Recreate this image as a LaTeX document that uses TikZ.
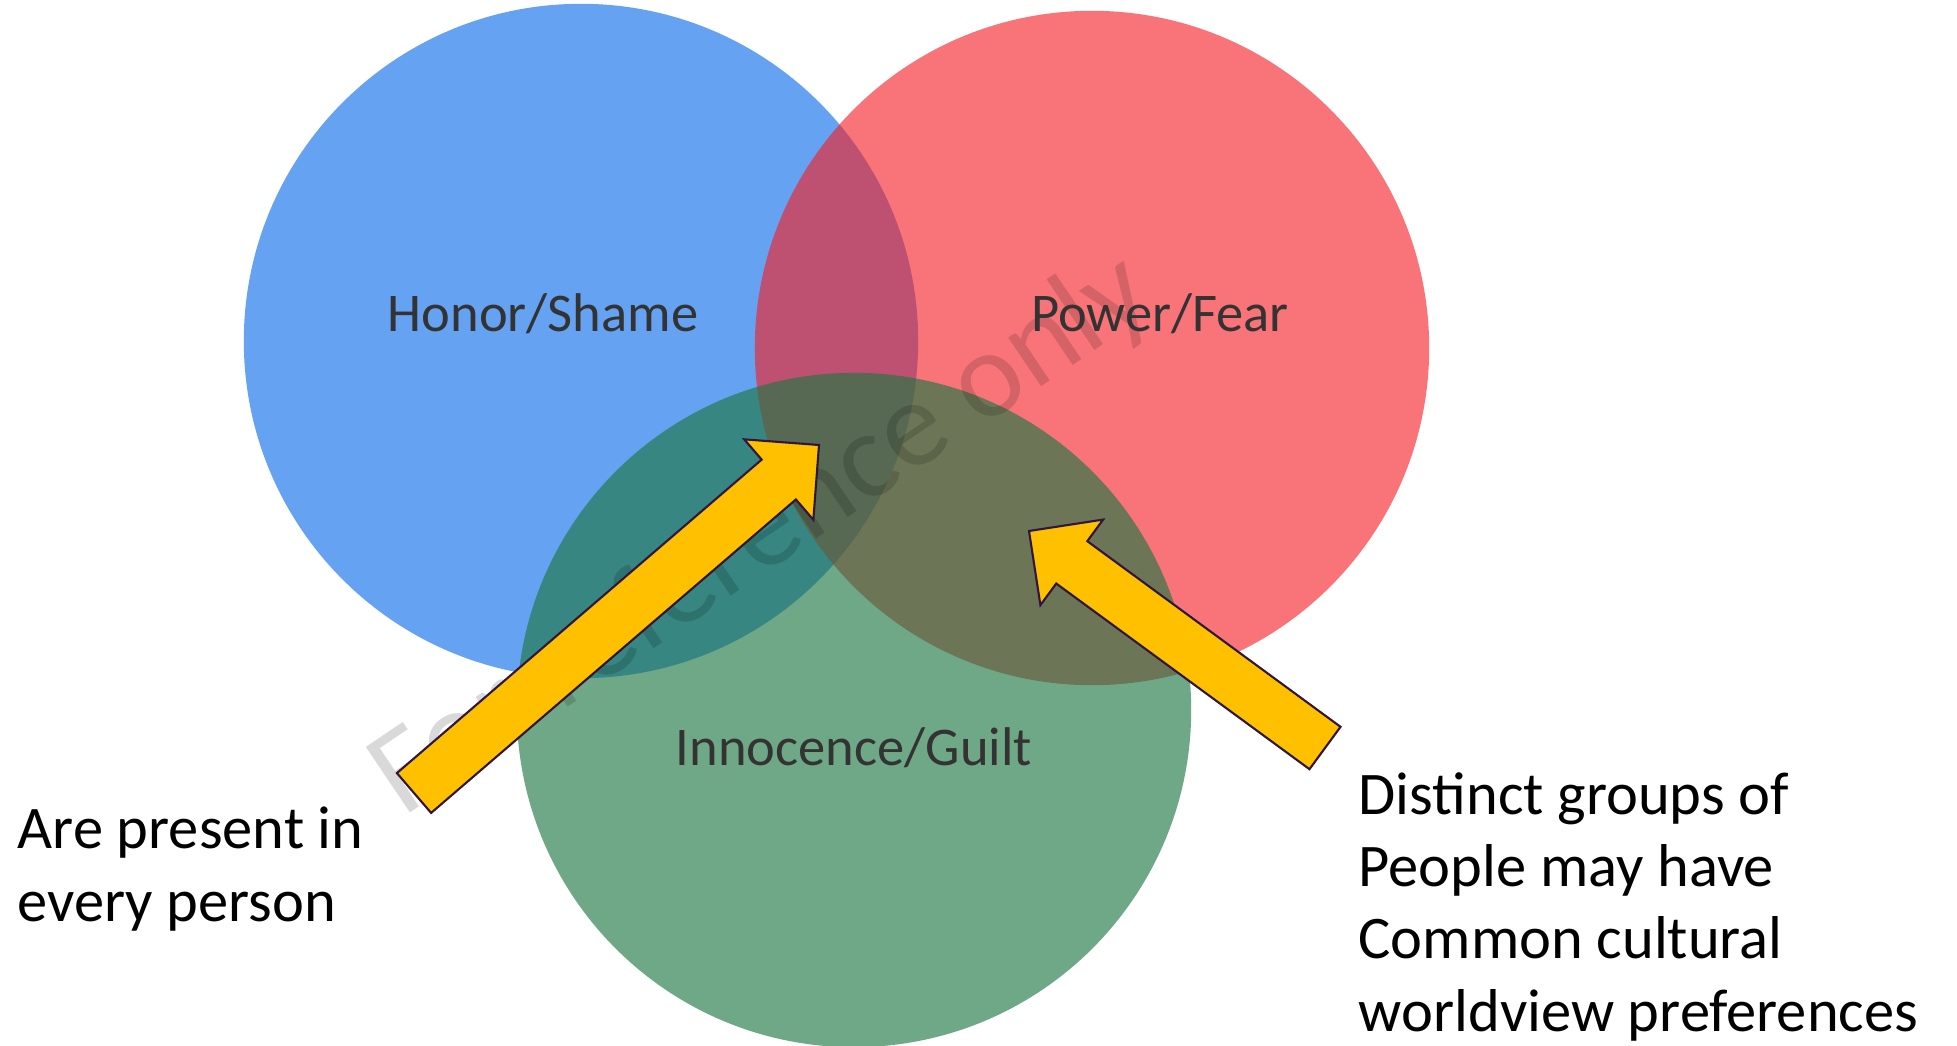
\documentclass[tikz,border=0pt]{standalone}
\usepackage{fontspec}
\setmainfont{Carlito}
\usepackage{tikz}
\usetikzlibrary{calc}

\definecolor{hsblue}{RGB}{101,162,242}
\definecolor{pfred}{RGB}{245,31,37}
\definecolor{igreen}{RGB}{30,119,67}
\definecolor{arrowfill}{RGB}{255,192,0}
\definecolor{arrowline}{RGB}{46,22,64}
\definecolor{labelgray}{RGB}{51,51,51}

\tikzset{
	ring/.style={circle, minimum size=6.74cm, inner sep=0pt},
	lbl/.style={text=labelgray, anchor=base, inner sep=0pt, font=\fontsize{15.5}{18}\selectfont},
	note/.style={align=left, anchor=base west, inner sep=0pt, font=\fontsize{17.2}{20.5}\selectfont},
	fatarrow/.style={fill=arrowfill, draw=arrowline, line width=0.6pt, line join=miter}
}

% block arrow from #1 (tail) to #2 (tip)
\newcommand{\blockarrow}[2]{
	\coordinate (#1n) at ($(#2)!0.53cm!(#1)$);
	\draw[fatarrow] ($(#1)!0.2625cm!90:(#2)$) -- ($(#1n)!0.2625cm!90:(#2)$)
		-- ($(#1n)!0.53cm!90:(#2)$) -- (#2) -- ($(#1n)!0.53cm!-90:(#2)$)
		-- ($(#1n)!0.2625cm!-90:(#2)$) -- ($(#1)!0.2625cm!-90:(#2)$) -- cycle;
}

\begin{document}
\begin{tikzpicture}[x=0.01cm, y=-0.01cm]
	\useasboundingbox (0,0) rectangle (1957,1046);
	\foreach \n/\c/\o/\x/\y in
	{honor/hsblue/1/581/341, power/pfred/0.62/1092/348, innocence/igreen/0.64/854/710}{
		\node[ring, fill=\c, fill opacity=\o] (\n) at (\x,\y) {};
	}
	
	% watermark
	\node[rotate=34, text=black, text opacity=0.15, font=\fontsize{35}{40}\selectfont] (stamp) at (762,536) {For reference only};
	
	% circle labels
	\node[lbl] (honorlbl) at (543,332) {Honor/Shame};
	\node[lbl] (powerlbl) at (1160,332) {Power/Fear};
	\node[lbl] (innocencelbl) at (854,765) {Innocence/Guilt};
	
	% side notes (base = last line)
	\node[note] (everyone) at (17,921) {Are present in\\every person};
	\node[note] (groups) at (1358,1031) {Distinct groups of\\People may have\\Common cultural\\worldview preferences};
	
	\foreach \x/\y in
	{lefttail/{414,793}, lefttip/{819,445}, righttail/{1325,748}, righttip/{1029,531}}{
		\coordinate (\x) at (\y);
	}
	\blockarrow{lefttail}{lefttip}
	\blockarrow{righttail}{righttip}
\end{tikzpicture}
\end{document}
